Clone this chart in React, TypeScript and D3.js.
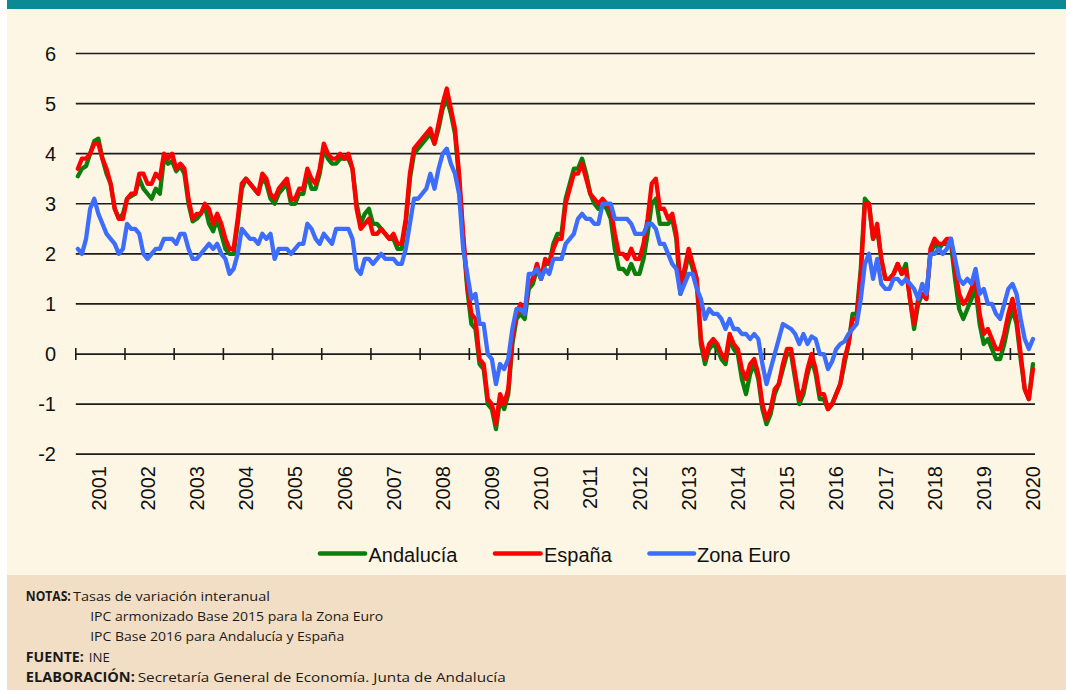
import React from 'react';
import * as d3 from 'd3';

const years = ['2001','2002','2003','2004','2005','2006','2007','2008','2009','2010','2011','2012','2013','2014','2015','2016','2017','2018','2019','2020'];
const yTicks = [-2, -1, 0, 1, 2, 3, 4, 5, 6];

// Monthly values, Jan 2001 – Jun 2020
const andalucia = [
  3.55, 3.7, 3.75, 4.0, 4.25, 4.3, 3.9, 3.6, 3.4, 2.9, 2.7, 2.8,
  3.1, 3.15, 3.2, 3.5, 3.3, 3.2, 3.1, 3.3, 3.2, 3.9, 3.8, 3.85,
  3.65, 3.75, 3.6, 3.0, 2.65, 2.7, 2.8, 2.95, 2.6, 2.45, 2.7, 2.4,
  2.1, 2.0, 2.0, 2.6, 3.3, 3.5, 3.4, 3.3, 3.2, 3.5, 3.4, 3.1,
  3.0, 3.2, 3.3, 3.4, 3.0, 3.0, 3.2, 3.2, 3.6, 3.3, 3.3, 3.6,
  4.1, 3.9, 3.8, 3.8, 3.9, 3.9, 3.9, 3.7, 3.0, 2.6, 2.8, 2.9,
  2.6, 2.6, 2.5, 2.4, 2.3, 2.3, 2.1, 2.1, 2.6, 3.5, 4.0, 4.1,
  4.2, 4.3, 4.4, 4.2, 4.5, 4.9, 5.1, 4.8, 4.4, 3.5, 2.3, 1.3,
  0.6, 0.5, -0.2, -0.3, -1.0, -1.1, -1.5, -0.9, -1.1, -0.8, 0.2, 0.7,
  0.8, 0.7, 1.3, 1.4, 1.7, 1.5, 1.8, 1.8, 2.2, 2.4, 2.4, 3.1,
  3.4, 3.7, 3.7, 3.9, 3.6, 3.2, 3.0, 2.9, 3.0, 2.9, 2.7, 2.1,
  1.7, 1.7, 1.6, 1.8, 1.6, 1.6, 1.9, 2.4, 3.0, 3.1, 2.6, 2.6,
  2.6, 2.7, 2.3, 1.2, 1.6, 2.0, 1.7, 1.4, 0.2, -0.2, 0.1, 0.2,
  0.1, -0.1, -0.2, 0.3, 0.1, 0.0, -0.5, -0.8, -0.4, -0.2, -0.5, -1.1,
  -1.4, -1.2, -0.8, -0.6, -0.3, 0.0, 0.0, -0.5, -1.0, -0.8, -0.4, -0.1,
  -0.4, -0.9, -0.9, -1.1, -1.0, -0.8, -0.6, -0.2, 0.2, 0.8, 0.8, 1.7,
  3.1, 3.0, 2.3, 2.5, 1.9, 1.5, 1.5, 1.6, 1.8, 1.6, 1.8, 1.1,
  0.5, 1.0, 1.2, 1.1, 2.0, 2.2, 2.1, 2.2, 2.2, 2.2, 1.5, 0.9,
  0.7, 0.9, 1.1, 1.3, 0.6, 0.2, 0.3, 0.1, -0.1, -0.1, 0.2, 0.6,
  0.9, 0.6, -0.1, -0.7, -0.9, -0.2,
];

const espana = [
  3.7, 3.9, 3.9, 4.0, 4.2, 4.2, 3.9, 3.7, 3.4, 2.9, 2.7, 2.7,
  3.1, 3.2, 3.2, 3.6, 3.6, 3.4, 3.4, 3.6, 3.5, 4.0, 3.9, 4.0,
  3.7, 3.8, 3.7, 3.1, 2.7, 2.8, 2.8, 3.0, 2.9, 2.6, 2.8, 2.6,
  2.3, 2.1, 2.1, 2.7, 3.4, 3.5, 3.4, 3.3, 3.2, 3.6, 3.5, 3.2,
  3.1, 3.3, 3.4, 3.5, 3.1, 3.1, 3.3, 3.3, 3.7, 3.5, 3.4, 3.7,
  4.2, 4.0, 3.9, 3.9, 4.0, 3.9, 4.0, 3.7, 2.9, 2.5, 2.6, 2.7,
  2.4, 2.4, 2.5, 2.4, 2.3, 2.4, 2.2, 2.2, 2.7, 3.6, 4.1, 4.2,
  4.3, 4.4, 4.5, 4.2, 4.6, 5.0, 5.3, 4.9, 4.5, 3.6, 2.4, 1.4,
  0.8, 0.7, -0.1, -0.2, -0.9, -1.0, -1.4, -0.8, -1.0, -0.7, 0.3, 0.8,
  1.0, 0.8, 1.4, 1.5, 1.8, 1.5, 1.9, 1.8, 2.1, 2.3, 2.3, 3.0,
  3.3, 3.6, 3.6, 3.8, 3.5, 3.2, 3.1, 3.0, 3.1, 3.0, 2.9, 2.4,
  2.0, 2.0, 1.9, 2.1, 1.9, 1.9, 2.2, 2.7, 3.4, 3.5, 2.9, 2.9,
  2.7, 2.8, 2.4, 1.4, 1.7, 2.1, 1.8, 1.5, 0.3, -0.1, 0.2, 0.3,
  0.2, 0.0, -0.1, 0.4, 0.2, 0.1, -0.3, -0.5, -0.2, -0.1, -0.4, -1.0,
  -1.3, -1.1, -0.7, -0.6, -0.2, 0.1, 0.1, -0.4, -0.9, -0.7, -0.3, 0.0,
  -0.3, -0.8, -0.8, -1.1, -1.0, -0.8, -0.6, -0.1, 0.2, 0.7, 0.7, 1.6,
  3.0, 3.0, 2.3, 2.6, 1.9, 1.5, 1.5, 1.6, 1.8, 1.6, 1.7, 1.1,
  0.6, 1.1, 1.2, 1.1, 2.1, 2.3, 2.2, 2.2, 2.3, 2.3, 1.7, 1.2,
  1.0, 1.1, 1.3, 1.5, 0.8, 0.4, 0.5, 0.3, 0.1, 0.1, 0.4, 0.8,
  1.1, 0.7, 0.0, -0.7, -0.9, -0.3,
];

const zonaEuro = [
  2.1, 2.0, 2.3, 2.9, 3.1, 2.8, 2.6, 2.4, 2.3, 2.2, 2.0, 2.1,
  2.6, 2.5, 2.5, 2.4, 2.0, 1.9, 2.0, 2.1, 2.1, 2.3, 2.3, 2.3,
  2.2, 2.4, 2.4, 2.1, 1.9, 1.9, 2.0, 2.1, 2.2, 2.1, 2.2, 2.0,
  1.9, 1.6, 1.7, 2.0, 2.5, 2.4, 2.3, 2.3, 2.2, 2.4, 2.3, 2.4,
  1.9, 2.1, 2.1, 2.1, 2.0, 2.1, 2.2, 2.2, 2.6, 2.5, 2.3, 2.2,
  2.4, 2.3, 2.2, 2.5, 2.5, 2.5, 2.5, 2.3, 1.7, 1.6, 1.9, 1.9,
  1.8, 1.9, 2.0, 1.9, 1.9, 1.9, 1.8, 1.8, 2.1, 2.6, 3.1, 3.1,
  3.2, 3.3, 3.6, 3.3, 3.7, 4.0, 4.1, 3.8, 3.6, 3.2, 2.1, 1.6,
  1.1, 1.2, 0.6, 0.6, 0.0, -0.1, -0.6, -0.2, -0.3, -0.1, 0.5, 0.9,
  0.9, 0.8, 1.6, 1.6, 1.7, 1.5, 1.7, 1.6, 1.9, 1.9, 1.9, 2.2,
  2.3, 2.4, 2.7, 2.8, 2.7, 2.7, 2.6, 2.6, 3.0, 3.0, 3.0, 2.7,
  2.7, 2.7, 2.7, 2.6, 2.4, 2.4, 2.4, 2.6, 2.6, 2.5, 2.2, 2.2,
  2.0, 1.8, 1.7, 1.2, 1.4, 1.6, 1.6, 1.3, 1.1, 0.7, 0.9, 0.8,
  0.8, 0.7, 0.5, 0.7, 0.5, 0.5, 0.4, 0.4, 0.3, 0.4, 0.3, -0.2,
  -0.6, -0.3, 0.0, 0.3, 0.6, 0.55, 0.5, 0.4, 0.2, 0.4, 0.2, 0.35,
  0.3, 0.0, 0.0, -0.3, -0.15, 0.1, 0.2, 0.25, 0.4, 0.5, 0.6, 1.1,
  1.8, 2.0, 1.5, 1.9, 1.4, 1.3, 1.3, 1.5, 1.5, 1.4, 1.5, 1.4,
  1.3, 1.1, 1.4, 1.2, 2.0, 2.0, 2.1, 2.0, 2.1, 2.3, 1.9, 1.5,
  1.4, 1.5, 1.4, 1.7, 1.2, 1.3, 1.0, 1.0, 0.8, 0.7, 1.0, 1.3,
  1.4, 1.2, 0.7, 0.3, 0.1, 0.3,
];

const seriesNames = ['Andalucía', 'España', 'Zona Euro'];
const seriesColors = ['#0a7f0a', '#ff0000', '#3d6dfd'];

const noteLines = [
  { label: 'NOTAS:', text: 'Tasas de variación interanual' },
  { label: '', text: 'IPC armonizado Base 2015 para la Zona Euro' },
  { label: '', text: 'IPC Base 2016 para Andalucía y España' },
  { label: 'FUENTE:', text: 'INE' },
  { label: 'ELABORACIÓN:', text: 'Secretaría General de Economía. Junta de Andalucía' },
];

export default function App() {
  const W = 1066;
  const H = 690;
  const left = 75.8;
  const right = 1035;
  const top = 53.5;
  const bottom = 454.2;
  const n = espana.length;

  const x = d3.scaleLinear().domain([0, n]).range([left, right]);
  const y = d3.scaleLinear().domain([-2, 6]).range([bottom, top]);
  const line = d3
    .line<number>()
    .x((_, i) => x(i + 0.5))
    .y((d) => y(d));

  const series = [andalucia, espana, zonaEuro];
  const font = '"Liberation Sans", Arial, sans-serif';
  const noteFont = '"Open Sans", "Noto Sans", sans-serif';

  const legendItems = [
    { x1: 320, x2: 365, tx: 368.5 },
    { x1: 495, x2: 540.5, tx: 544 },
    { x1: 649.5, x2: 694, tx: 697 },
  ];

  const noteX = [
    { lx: 25.8, lw: 45, tx: 73, tw: 197 },
    { lx: 0, lw: 0, tx: 90.2, tw: 293 },
    { lx: 0, lw: 0, tx: 90.2, tw: 254 },
    { lx: 25.8, lw: 58, tx: 88.8, tw: 21 },
    { lx: 25.8, lw: 109, tx: 137.7, tw: 368 },
  ];

  return (
    <svg
      width={W}
      height={H}
      viewBox={`0 0 ${W} ${H}`}
      style={{ position: 'absolute', left: 0, top: 0, display: 'block' }}
    >
      <rect x={0} y={0} width={W} height={H} fill="#ffffff" />
      <rect x={7} y={0} width={W - 7} height={9} fill="#0b8a96" />
      <rect x={7} y={9} width={W - 7} height={566} fill="#fdf6e4" />
      <rect x={7} y={575} width={W - 7} height={H - 575} fill="#f2dec4" />

      {/* gridlines */}
      {yTicks.map((t) => (
        <line
          key={'g' + t}
          x1={left}
          x2={right}
          y1={y(t)}
          y2={y(t)}
          stroke="#1c1c1c"
          strokeWidth={1.7}
        />
      ))}

      {/* y labels */}
      {yTicks.map((t) => (
        <text
          key={'yl' + t}
          x={56}
          y={y(t)}
          dy="0.36em"
          textAnchor="end"
          fontFamily={font}
          fontSize={20}
          fill="#111"
        >
          {t}
        </text>
      ))}

      {/* ticks on zero line */}
      {years.map((yr, k) => (
        <line
          key={'t' + yr}
          x1={x(12 * k)}
          x2={x(12 * k)}
          y1={y(0) - 6}
          y2={y(0) + 6}
          stroke="#1c1c1c"
          strokeWidth={1.6}
        />
      ))}

      {/* x labels */}
      {years.map((yr, k) => {
        const cx = x(12 * k + 6) - 2;
        const ty = 466;
        return (
          <text
            key={'xl' + yr}
            transform={`translate(${cx + 7.2},${ty}) rotate(-90)`}
            textAnchor="end"
            fontFamily={font}
            fontSize={20}
            fill="#111"
          >
            {yr}
          </text>
        );
      })}

      {/* series */}
      {series.map((s, si) => (
        <path
          key={'s' + si}
          d={line(s) || ''}
          fill="none"
          stroke={seriesColors[si]}
          strokeWidth={4.3}
          strokeLinejoin="round"
          strokeLinecap="round"
        />
      ))}

      {/* legend */}
      {seriesNames.map((name, i) => (
        <g key={'lg' + name}>
          <line
            x1={legendItems[i].x1}
            x2={legendItems[i].x2}
            y1={553.5}
            y2={553.5}
            stroke={seriesColors[i]}
            strokeWidth={4.6}
            strokeLinecap="round"
          />
          <text
            x={legendItems[i].tx}
            y={561.5}
            fontFamily={font}
            fontSize={20}
            fill="#111"
          >
            {name}
          </text>
        </g>
      ))}

      {/* notes */}
      {noteLines.map((nl, i) => {
        const by = 601 + i * 20.2;
        const p = noteX[i];
        return (
          <g key={'n' + i}>
            {nl.label && (
              <text
                x={p.lx}
                y={by}
                fontFamily={noteFont}
                fontSize={13.5}
                fontWeight={700}
                fill="#1a1a1a"
                textLength={p.lw}
                lengthAdjust="spacingAndGlyphs"
              >
                {nl.label}
              </text>
            )}
            <text
              x={p.tx}
              y={by}
              fontFamily={noteFont}
              fontSize={13.5}
              fill="#1a1a1a"
              textLength={p.tw}
              lengthAdjust="spacingAndGlyphs"
            >
              {nl.text}
            </text>
          </g>
        );
      })}
    </svg>
  );
}
